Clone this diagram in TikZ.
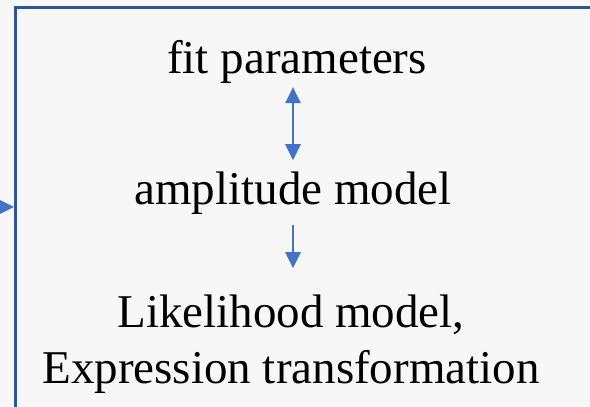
\documentclass[tikz,border=0pt]{standalone}
\usepackage{fontspec}
\setmainfont{Liberation Serif}
\usetikzlibrary{arrows.meta}
\usetikzlibrary{positioning}
\definecolor{bgray}{HTML}{F7F7F7}
\definecolor{frameblue}{HTML}{2F5597}
\definecolor{arrowblue}{HTML}{4472C4}

\begin{document}
\begin{tikzpicture}[
    x=1pt, y=-1pt,
    font=\fontsize{47}{56}\selectfont
]
\tikzset{
    mynode/.style = {inner sep=0pt, align=center, anchor=base},
    myframe/.style = {draw=frameblue, line width=2.6pt, fill=bgray, inner sep=0pt, anchor=north west, minimum width=620pt, minimum height=440pt},
    edgeb/.style = {{Triangle[length=16pt,width=15pt]}-{Triangle[length=16pt,width=15pt]}, line width=2.8pt, arrowblue},
    edged/.style = {-{Triangle[length=16pt,width=15pt]}, line width=2.8pt, arrowblue}
}
\fill[bgray] (0,0) rectangle (590,407);
\useasboundingbox (0,0) rectangle (590,407);
\node[myframe] (frame) at (14,6) {};
\node[mynode] at (297,73) (params) {fit parameters};
\node[mynode] at (293,204) (ampl) {amplitude model};
\node[mynode] at (291,383) (lik) {Likelihood model,\\Expression transformation};
\coordinate (in) at (-20,207);
\draw[edgeb, shorten <=4pt, shorten >=11pt] (params.south -| ampl.north) -- (ampl.north);
\draw[edged, shorten <=11pt, shorten >=26pt] (ampl.south) -- (ampl.south |- lik.north);
\draw[edged] (in) -- (in -| frame.west);
\end{tikzpicture}
\end{document}
